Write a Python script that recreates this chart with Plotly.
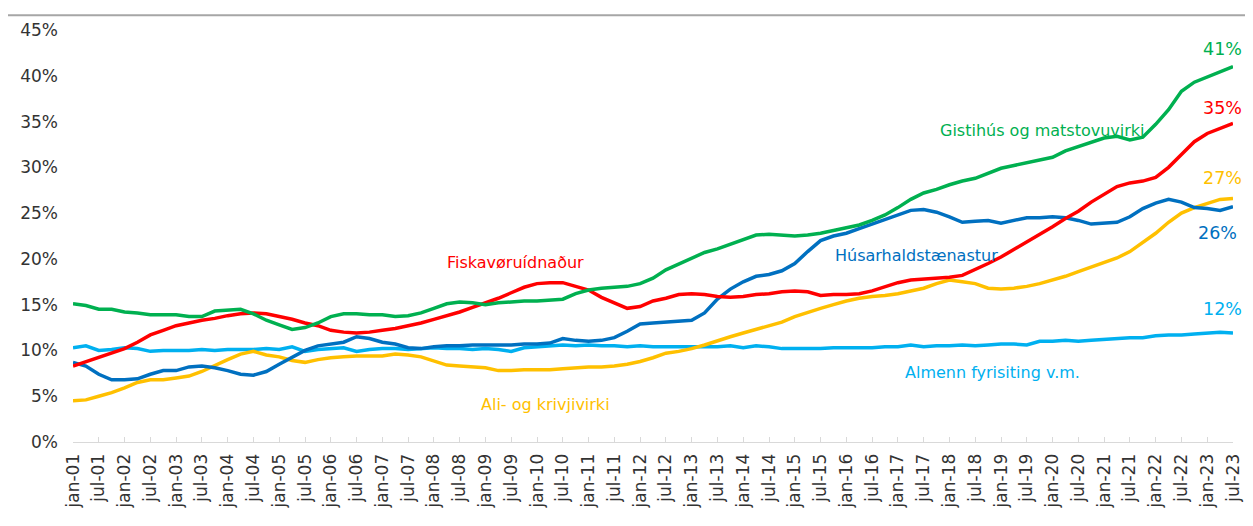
import plotly.graph_objects as go

# ---------------- data (quarterly readings, % ) ----------------
MONTHS = ["jan", "feb", "mar", "apr", "mai", "jun", "jul", "aug", "sep", "okt", "nov", "des"]
YEARS = list(range(2001, 2024))
ALL_MONTHS = [f"{m}-{y % 100:02d}" for y in YEARS for m in MONTHS]
ALL_MONTHS = ALL_MONTHS[: ALL_MONTHS.index("jul-23") + 1]

QUARTER_LABELS = [f"{m}-{y % 100:02d}" for y in YEARS for m in ["jan", "apr", "jul", "okt"]]
QUARTER_LABELS = QUARTER_LABELS[: QUARTER_LABELS.index("jul-23") + 1]

TICK_LABELS = [l for l in ALL_MONTHS if l.startswith("jan") or l.startswith("jul")]

gistihus = [
    15.1, 14.9, 14.5, 14.5,  14.2, 14.1, 13.9, 13.9,  13.9, 13.7, 13.7, 14.3,
    14.4, 14.5, 14.0, 13.3,  12.8, 12.3, 12.5, 13.0,  13.7, 14.0, 14.0, 13.9,
    13.9, 13.7, 13.8, 14.1,  14.6, 15.1, 15.3, 15.2,  15.0, 15.2, 15.3, 15.4,
    15.4, 15.5, 15.6, 16.2,  16.6, 16.8, 16.9, 17.0,  17.3, 17.9, 18.8, 19.4,
    20.1, 20.7, 21.1, 21.6,  22.2, 22.6, 22.7, 22.6,  22.5, 22.6, 22.8, 23.1,
    23.4, 23.7, 24.2, 24.8,  25.6, 26.5, 27.2, 27.6,  28.1, 28.5, 28.8, 29.4,
    29.9, 30.2, 30.5, 30.8,  31.1, 31.8, 32.3, 32.8,  33.2, 33.4, 33.0, 33.3,
    34.7, 36.3, 38.3, 39.3,  39.9, 40.5, 41.0,
]
fiska = [
    8.3, 8.8, 9.2, 9.7,      10.2, 10.9, 11.7, 12.2,  12.7, 13.0, 13.3, 13.5,
    13.8, 14.0, 14.1, 14.0,  13.7, 13.4, 13.0, 12.7,  12.2, 12.0, 11.9, 12.0,
    12.2, 12.4, 12.7, 13.0,  13.4, 13.8, 14.2, 14.7,  15.2, 15.7, 16.3, 16.9,
    17.3, 17.4, 17.4, 17.0,  16.6, 15.8, 15.2, 14.6,  14.8, 15.4, 15.7, 16.1,
    16.2, 16.1, 15.9, 15.8,  15.9, 16.1, 16.2, 16.4,  16.5, 16.4, 16.0, 16.1,
    16.1, 16.2, 16.5, 17.0,  17.4, 17.7, 17.8, 17.9,  18.0, 18.2, 18.8, 19.5,
    20.2, 21.0, 21.9, 22.7,  23.5, 24.4, 25.2, 26.2,  27.1, 27.9, 28.3, 28.5,
    28.9, 30.0, 31.4, 32.8,  33.7, 34.3, 34.8,
]
husar = [
    8.7, 8.3, 7.4, 6.8,      6.8, 6.9, 7.4, 7.8,      7.8, 8.2, 8.3, 8.1,
    7.8, 7.4, 7.3, 7.7,      8.5, 9.3, 10.0, 10.5,    10.7, 10.9, 11.5, 11.3,
    10.9, 10.7, 10.3, 10.2,  10.4, 10.5, 10.5, 10.6,  10.6, 10.6, 10.6, 10.7,
    10.7, 10.8, 11.3, 11.1,  11.0, 11.1, 11.4, 12.1,  12.9, 13.0, 13.1, 13.2,
    13.3, 14.1, 15.6, 16.7,  17.5, 18.1, 18.3, 18.7,  19.5, 20.8, 22.0, 22.5,
    22.8, 23.3, 23.8, 24.4,  24.9, 25.3, 25.4, 25.1,  24.6, 24.0, 24.1, 24.2,
    23.9, 24.2, 24.5, 24.5,  24.6, 24.5, 24.2, 23.8,  23.9, 24.0, 24.6, 25.5,
    26.1, 26.5, 26.2, 25.6,  25.5, 25.3, 25.7,
]
ali = [
    4.5, 4.6, 5.0, 5.4,      5.9, 6.5, 6.8, 6.8,      7.0, 7.2, 7.7, 8.4,
    9.0, 9.6, 9.9, 9.5,      9.3, 8.9, 8.7, 9.0,      9.2, 9.3, 9.4, 9.4,
    9.4, 9.6, 9.5, 9.3,      8.8, 8.4, 8.3, 8.2,      8.1, 7.8, 7.8, 7.9,
    7.9, 7.9, 8.0, 8.1,      8.2, 8.2, 8.3, 8.5,      8.8, 9.2, 9.7, 9.9,
    10.2, 10.6, 11.1, 11.5,  11.9, 12.3, 12.7, 13.1,  13.7, 14.2, 14.6, 15.0,
    15.4, 15.7, 15.9, 16.0,  16.2, 16.5, 16.8, 17.3,  17.7, 17.5, 17.3, 16.8,
    16.7, 16.8, 17.0, 17.3,  17.7, 18.1, 18.6, 19.1,  19.5, 20.1, 20.8, 21.8,
    22.8, 24.0, 25.0, 25.6,  26.1, 26.5, 26.6,
]
almenn = [
    10.3, 10.5, 10.0, 10.1,  10.3, 10.2, 9.9, 10.0,   10.0, 10.0, 10.1, 10.0,
    10.1, 10.1, 10.1, 10.2,  10.1, 10.4, 9.9, 10.1,   10.2, 10.3, 9.9, 10.1,
    10.2, 10.2, 10.1, 10.2,  10.3, 10.2, 10.2, 10.1,  10.2, 10.1, 9.9, 10.3,
    10.4, 10.5, 10.6, 10.5,  10.6, 10.5, 10.5, 10.4,  10.5, 10.4, 10.4, 10.4,
    10.4, 10.4, 10.4, 10.5,  10.3, 10.5, 10.4, 10.2,  10.2, 10.2, 10.2, 10.3,
    10.3, 10.3, 10.3, 10.4,  10.4, 10.6, 10.4, 10.5,  10.5, 10.6, 10.5, 10.6,
    10.7, 10.7, 10.6, 11.0,  11.0, 11.1, 11.0, 11.1,  11.2, 11.3, 11.4, 11.4,
    11.6, 11.7, 11.7, 11.8,  11.9, 12.0, 11.9,
]

SERIES = [
    ("Gistihús og matstovuvirki", gistihus, "#00B050"),
    ("Fiskavøruídnaður", fiska, "#FF0000"),
    ("Húsarhaldstænastur", husar, "#0070C0"),
    ("Ali- og krivjivirki", ali, "#FFC000"),
    ("Almenn fyrisiting v.m.", almenn, "#00B0F0"),
]

END_LABELS = ["41%", "35%", "26%", "27%", "12%"]

x_idx = [ALL_MONTHS.index(l) for l in QUARTER_LABELS]
tick_idx = [ALL_MONTHS.index(l) for l in TICK_LABELS]

fig = go.Figure()
# draw order: light blue, yellow, dark blue, red, green
for name, vals, col in [SERIES[4], SERIES[3], SERIES[2], SERIES[1], SERIES[0]]:
    assert len(vals) == len(x_idx), (name, len(vals), len(x_idx))
    fig.add_trace(go.Scatter(
        x=x_idx, y=vals, mode="lines", name=name,
        line=dict(color=col, width=3.5), cliponaxis=False,
        customdata=[[l] for l in QUARTER_LABELS],
        hovertemplate="%{customdata[0]}: %{y:.1f}%<extra>" + name + "</extra>",
    ))

FONT = "DejaVu Sans, Verdana, sans-serif"
last = len(ALL_MONTHS) - 1

# series name labels
name_pos = {
    "Gistihús og matstovuvirki": (225.6, 34.0),
    "Fiskavøruídnaður": (103, 19.6),
    "Húsarhaldstænastur": (196.3, 20.4),
    "Ali- og krivjivirki": (110, 4.1),
    "Almenn fyrisiting v.m.": (214, 7.6),
}
for name, vals, col in SERIES:
    px, py = name_pos[name]
    fig.add_annotation(x=px, y=py, text=name, showarrow=False,
                       font=dict(family=FONT, size=16, color=col),
                       xanchor="center", yanchor="middle")

# end value labels
end_pos = [(267.6, 42.9), (267.6, 36.5), (266.5, 22.8), (267.6, 28.8), (267.6, 14.5)]
end_cols = ["#00B050", "#FF0000", "#0070C0", "#FFC000", "#00B0F0"]
for txt, (px, py), col in zip(END_LABELS, end_pos, end_cols):
    fig.add_annotation(x=px, y=py, text=txt, showarrow=False,
                       font=dict(family=FONT, size=17.5, color=col),
                       xanchor="center", yanchor="middle")

# page body has an 8px default margin; margins compensate for it
fig.update_layout(
    width=1253, height=526,
    margin=dict(l=60, r=28, t=16, b=92),
    paper_bgcolor="white", plot_bgcolor="white",
    showlegend=False,
    font=dict(family=FONT, color="#333333"),
    xaxis=dict(
        range=[0, last], tickmode="array", tickvals=tick_idx, ticktext=TICK_LABELS,
        tickangle=-90, tickfont=dict(family=FONT, size=17, color="#333333"),
        showgrid=False, zeroline=False, showline=True, linecolor="#D9D9D9", linewidth=1,
        ticks="inside", ticklen=5, tickcolor="#D9D9D9", tickwidth=1,
        ticklabelstandoff=4,
    ),
    yaxis=dict(
        range=[0, 45], tickmode="array", tickvals=list(range(0, 46, 5)),
        ticktext=[f"{v}%" for v in range(0, 46, 5)],
        tickfont=dict(family=FONT, size=17, color="#333333"),
        showgrid=False, zeroline=False, showline=False, ticks="",
        ticklabelstandoff=14,
    ),
)

# thin grey rule at the very top (frame edge of the original title area)
fig.add_shape(type="line", xref="paper", yref="paper",
              x0=-70 / 1165, x1=1.03, y0=1.036, y1=1.036,
              line=dict(color="#A6A6A6", width=2))

fig.write_html("out.html")
